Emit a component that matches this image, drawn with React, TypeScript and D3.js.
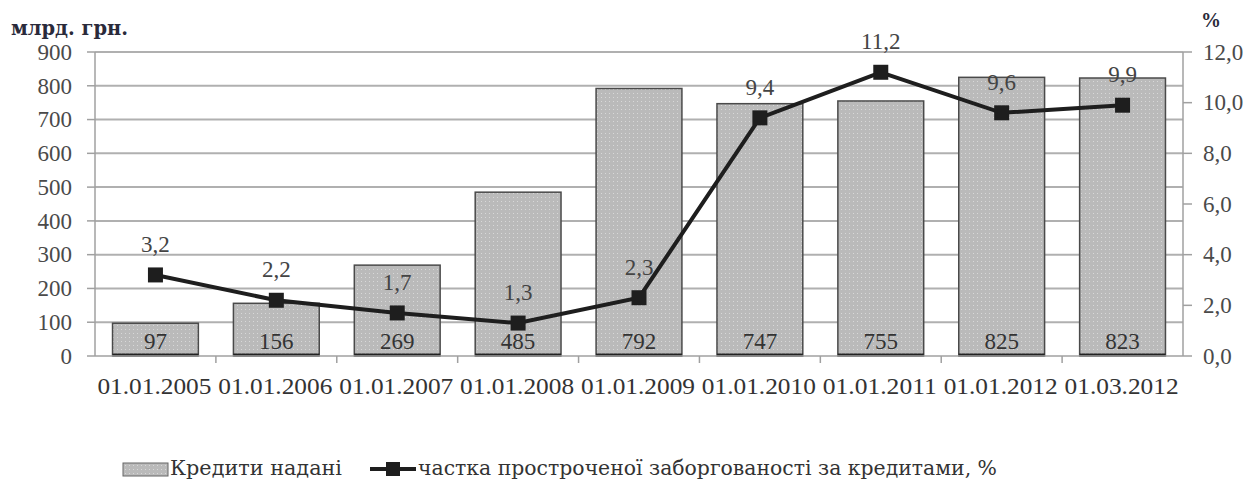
import React, { useEffect, useRef } from 'react';
import * as d3 from 'd3';

const categories = ['01.01.2005', '01.01.2006', '01.01.2007', '01.01.2008', '01.01.2009', '01.01.2010', '01.01.2011', '01.01.2012', '01.03.2012'];
const credits = [97, 156, 269, 485, 792, 747, 755, 825, 823];
const overdueShare = [3.2, 2.2, 1.7, 1.3, 2.3, 9.4, 11.2, 9.6, 9.9];
const leftTicks = [0, 100, 200, 300, 400, 500, 600, 700, 800, 900];
const rightTicks = [0, 2, 4, 6, 8, 10, 12];

const W = 1251;
const H = 482;

const fmt = (v: number) => v.toFixed(1).replace('.', ',');

const App = () => {
  const ref = useRef<SVGSVGElement>(null);

  useEffect(() => {
    const svg = d3.select(ref.current);
    svg.selectAll('*').remove();

    const left = 95, right = 1183, top = 52, bottom = 356;
    const font = '"Liberation Serif", "DejaVu Serif", "Times New Roman", serif';
    const cyrFont = '"DejaVu Serif", serif';
    const fs = 23;

    const x = d3.scaleBand().domain(categories).range([left, right]).paddingInner(0.29).paddingOuter(0.145);
    const y = d3.scaleLinear().domain([0, 900]).range([bottom, top]);
    const y2 = d3.scaleLinear().domain([0, 12]).range([bottom, top]);

    const defs = svg.append('defs');
    const pat = defs.append('pattern').attr('id', 'dots').attr('width', 4).attr('height', 4).attr('patternUnits', 'userSpaceOnUse');
    pat.append('rect').attr('width', 4).attr('height', 4).attr('fill', '#bababa');
    pat.append('rect').attr('x', 1).attr('y', 1).attr('width', 1).attr('height', 1).attr('fill', '#d8d8d8');

    // gridlines
    svg.append('g').selectAll('line').data(leftTicks.slice(1)).enter().append('line')
      .attr('x1', left).attr('x2', right)
      .attr('y1', d => y(d)).attr('y2', d => y(d))
      .attr('stroke', '#b0b0b0').attr('stroke-width', 2);

    // bars
    svg.append('g').selectAll('rect').data(credits).enter().append('rect')
      .attr('x', (d, i) => x(categories[i])!)
      .attr('y', d => y(d))
      .attr('width', x.bandwidth())
      .attr('height', d => bottom - y(d))
      .attr('fill', 'url(#dots)')
      .attr('stroke', '#4a4a4a').attr('stroke-width', 1.5);

    // bar bottoms (dark edge)
    svg.append('g').selectAll('line').data(credits).enter().append('line')
      .attr('x1', (d, i) => x(categories[i])!)
      .attr('x2', (d, i) => x(categories[i])! + x.bandwidth())
      .attr('y1', bottom - 1).attr('y2', bottom - 1)
      .attr('stroke', '#222').attr('stroke-width', 3);

    // axes lines
    const axisCol = '#a0a0a0';
    svg.append('line').attr('x1', left).attr('x2', left).attr('y1', top).attr('y2', bottom).attr('stroke', axisCol).attr('stroke-width', 1.5);
    svg.append('line').attr('x1', right).attr('x2', right).attr('y1', top).attr('y2', bottom).attr('stroke', axisCol).attr('stroke-width', 1.5);
    svg.append('line').attr('x1', left).attr('x2', right).attr('y1', bottom).attr('y2', bottom).attr('stroke', axisCol).attr('stroke-width', 1.5);

    // left ticks
    const lt = svg.append('g');
    lt.selectAll('line').data(leftTicks).enter().append('line')
      .attr('x1', left - 8).attr('x2', left).attr('y1', d => y(d)).attr('y2', d => y(d))
      .attr('stroke', axisCol).attr('stroke-width', 1.5);
    lt.selectAll('text').data(leftTicks).enter().append('text')
      .attr('x', 72).attr('y', d => y(d)).attr('dy', '0.34em')
      .attr('text-anchor', 'end').attr('font-family', font).attr('font-size', fs).attr('fill', '#4a4a4a')
      .text(d => d);

    // right ticks
    const rt = svg.append('g');
    rt.selectAll('line').data(rightTicks).enter().append('line')
      .attr('x1', right).attr('x2', right + 9).attr('y1', d => y2(d)).attr('y2', d => y2(d))
      .attr('stroke', axisCol).attr('stroke-width', 1.5);
    rt.selectAll('text').data(rightTicks).enter().append('text')
      .attr('x', 1203).attr('y', d => y2(d)).attr('dy', '0.34em')
      .attr('font-family', font).attr('font-size', fs).attr('fill', '#4a4a4a')
      .text(d => fmt(d));

    // category ticks and labels
    const bounds = categories.slice(1).map(c => x(c)! - x.step() * 0.145);
    svg.append('g').selectAll('line').data(bounds).enter().append('line')
      .attr('x1', d => d).attr('x2', d => d).attr('y1', bottom).attr('y2', bottom + 7)
      .attr('stroke', axisCol).attr('stroke-width', 1.5);
    svg.append('g').selectAll('text').data(categories).enter().append('text')
      .attr('x', d => x(d)! + x.bandwidth() / 2 - 1).attr('y', 394)
      .attr('text-anchor', 'middle').attr('font-family', font).attr('font-size', fs).attr('fill', '#333')
      .attr('textLength', 114).attr('lengthAdjust', 'spacingAndGlyphs')
      .text(d => d);

    // bar value labels
    svg.append('g').selectAll('text').data(credits).enter().append('text')
      .attr('x', (d, i) => x(categories[i])! + x.bandwidth() / 2).attr('y', 349)
      .attr('text-anchor', 'middle').attr('font-family', font).attr('font-size', fs).attr('fill', '#333')
      .text(d => d);

    // line series
    const cx = (i: number) => x(categories[i])! + x.bandwidth() / 2;
    const line = d3.line<number>().x((d, i) => cx(i)).y(d => y2(d));
    svg.append('path').datum(overdueShare).attr('d', line)
      .attr('fill', 'none').attr('stroke', '#1e1e1e').attr('stroke-width', 4);
    svg.append('g').selectAll('rect').data(overdueShare).enter().append('rect')
      .attr('x', (d, i) => cx(i) - 7.5).attr('y', d => y2(d) - 7.5)
      .attr('width', 15).attr('height', 15).attr('fill', '#1e1e1e');
    svg.append('g').selectAll('text').data(overdueShare).enter().append('text')
      .attr('x', (d, i) => cx(i)).attr('y', d => y2(d) - 23)
      .attr('text-anchor', 'middle').attr('font-family', font).attr('font-size', fs).attr('fill', '#444')
      .text(d => fmt(d));

    // axis titles
    svg.append('text').attr('x', 11).attr('y', 35).attr('font-family', cyrFont).attr('font-size', 20)
      .attr('font-weight', 'bold').attr('fill', '#2a2a3a')
      .attr('textLength', 117).attr('lengthAdjust', 'spacingAndGlyphs').text('млрд. грн.');
    svg.append('text').attr('x', 1201).attr('y', 27).attr('font-family', font).attr('font-size', 20)
      .attr('font-weight', 'bold').attr('fill', '#2a2a3a').text('%');

    // legend
    const lg = svg.append('g');
    lg.append('rect').attr('x', 123).attr('y', 463).attr('width', 45).attr('height', 13)
      .attr('fill', 'url(#dots)').attr('stroke', '#666').attr('stroke-width', 1);
    lg.append('text').attr('x', 170).attr('y', 475).attr('font-family', cyrFont).attr('font-size', 21).attr('fill', '#333')
      .attr('textLength', 172).attr('lengthAdjust', 'spacingAndGlyphs')
      .text('Кредити надані');
    lg.append('line').attr('x1', 370).attr('x2', 416).attr('y1', 469).attr('y2', 469).attr('stroke', '#1e1e1e').attr('stroke-width', 4);
    lg.append('rect').attr('x', 386).attr('y', 462).attr('width', 14).attr('height', 14).attr('fill', '#1e1e1e');
    lg.append('text').attr('x', 418).attr('y', 475).attr('font-family', cyrFont).attr('font-size', 21).attr('fill', '#333')
      .attr('textLength', 579).attr('lengthAdjust', 'spacingAndGlyphs')
      .text('частка простроченої заборгованості за кредитами, %');
  }, []);

  return <svg ref={ref} width={W} height={H} style={{ position: 'absolute', left: 0, top: 0, background: '#fff' }} />;
};

export default App;
